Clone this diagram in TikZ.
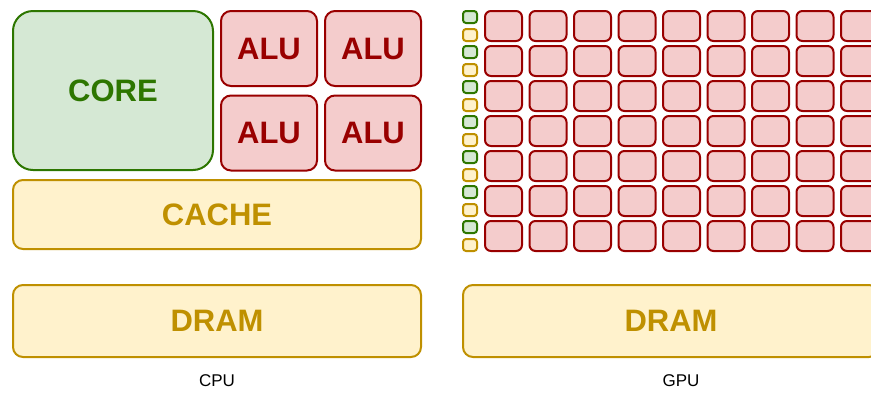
\documentclass[tikz,border=0pt]{standalone}
\usepackage{fontspec}
\setmainfont{Liberation Sans}
\usetikzlibrary{positioning}

\definecolor{coreFill}{HTML}{D5E8D4}
\definecolor{coreLine}{HTML}{2D7600}
\definecolor{aluFill}{HTML}{F4CCCC}
\definecolor{aluLine}{HTML}{990000}
\definecolor{memFill}{HTML}{FFF2CC}
\definecolor{memLine}{HTML}{BF9000}

\begin{document}
\begin{tikzpicture}[
  x=1pt, y=-1pt,
  box/.style={draw, line width=2pt, inner sep=0pt, font=\bfseries\fontsize{31}{36}\selectfont},
  core/.style={box, fill=coreFill, draw=coreLine, text=coreLine, rounded corners=20pt, minimum width=200pt, minimum height=159pt},
  alu/.style={box, fill=aluFill, draw=aluLine, text=aluLine, rounded corners=10pt, minimum width=96pt, minimum height=75pt},
  mem/.style={box, fill=memFill, draw=memLine, text=memLine, rounded corners=10pt, minimum width=408pt},
  cell/.style={draw=aluLine, fill=aluFill, line width=2pt, rounded corners=6pt, minimum width=37pt, minimum height=30pt, inner sep=0pt},
  ctrl/.style={draw=coreLine, fill=coreFill, line width=2pt, rounded corners=3pt, minimum width=14pt, minimum height=12pt, inner sep=0pt},
  smallcache/.style={ctrl, draw=memLine, fill=memFill},
  caption/.style={font=\fontsize{17}{20}\selectfont}
]
\useasboundingbox (0,0) rectangle (871,392);
\clip (0,0) rectangle (871,392);

% CPU side
\node[core] (core) at (113,90.5) {CORE};
\node[alu] (alu1) at (269,48.5) {ALU};
\node[alu] (alu2) at (373,48.5) {ALU};
\node[alu] (alu3) at (269,133) {ALU};
\node[alu] (alu4) at (373,133) {ALU};
\node[mem, minimum height=69pt] (cache) at (217,214.5) {CACHE};
\node[mem, minimum height=72pt] (cpudram) at (217,321) {DRAM};
\node[caption] (cpu) at (217,381) {CPU};

% GPU side
\foreach \r in {0,...,6} {
  \node[ctrl] (ctrl-\r) at (470,17+35*\r) {};
  \node[smallcache] (lcache-\r) at (470,35+35*\r) {};
  \foreach \c in {0,...,8}
    \node[cell] (cell-\r-\c) at (503.5+44.5*\c,26+35*\r) {};
}
\node[mem, minimum width=416pt, minimum height=72pt] (gpudram) at (671,321) {DRAM};
\node[caption] (gpu) at (681,381) {GPU};

\end{tikzpicture}
\end{document}
